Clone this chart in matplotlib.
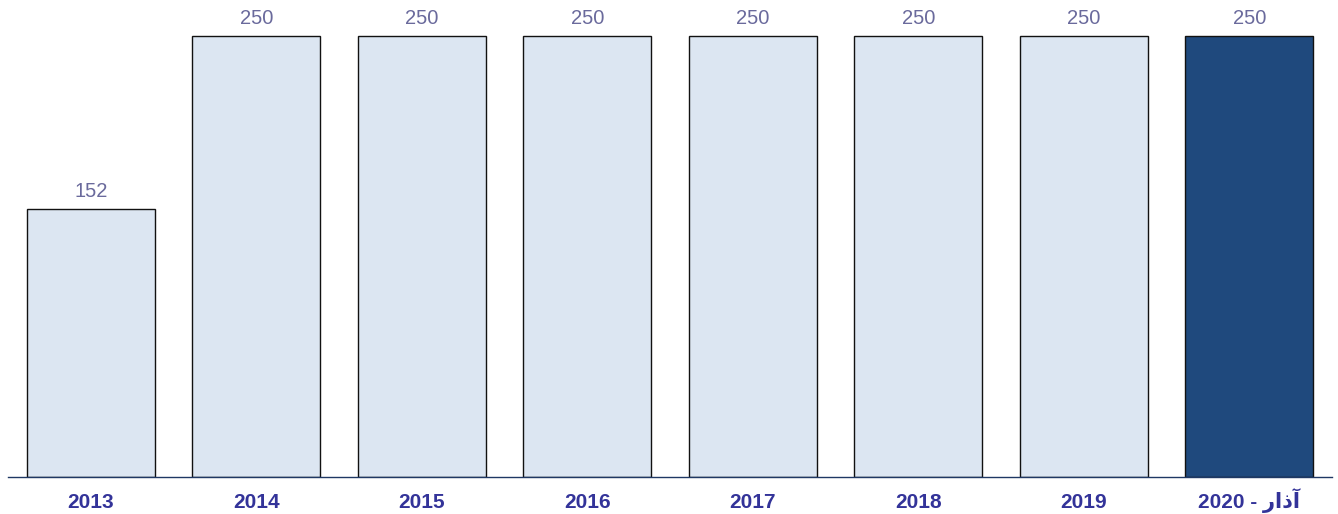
import matplotlib
matplotlib.use('Agg')
import matplotlib.pyplot as plt

plt.rcParams['font.family'] = ['Liberation Sans', 'DejaVu Sans']

# Данные (арабское слово записано в визуальном порядке, т.к. matplotlib не делает bidi)
years = ['2013', '2014', '2015', '2016', '2017', '2018', '2019',
         '2020 - \u0631\u0627\u0630\u0622']
values = [152, 250, 250, 250, 250, 250, 250, 250]
highlight = [False, False, False, False, False, False, False, True]

LIGHT = '#dce6f2'
DARK = '#1f497d'

fig = plt.figure(figsize=(13.38, 5.14), dpi=100)
ax = fig.add_axes([8 / 1338, 37 / 514, 1324 / 1338, 477 / 514])

x = list(range(len(years)))
colors = [DARK if h else LIGHT for h in highlight]
bars = ax.bar(x, values, width=0.773, color=colors, edgecolor='#111111', linewidth=1)

for b, v in zip(bars, values):
    ax.annotate(str(v), (b.get_x() + b.get_width() / 2, v), xytext=(0, 5.5),
                textcoords='offset points', ha='center', va='bottom',
                fontsize=14.5, color='#6a6a9c')

ax.set_xlim(-0.5, 7.5)
ax.set_ylim(0, 270.4)
ax.set_xticks(x)
ax.set_xticklabels(years, fontsize=15, fontweight='bold', color='#333399')
ax.tick_params(axis='x', length=0, pad=22.3)
for lbl in ax.get_xticklabels():
    lbl.set_va('baseline')
ax.set_yticks([])

for s in ['top', 'right', 'left']:
    ax.spines[s].set_visible(False)
ax.spines['bottom'].set_color('#1f3864')
ax.spines['bottom'].set_linewidth(1)

fig.savefig('out.png', dpi=100)
